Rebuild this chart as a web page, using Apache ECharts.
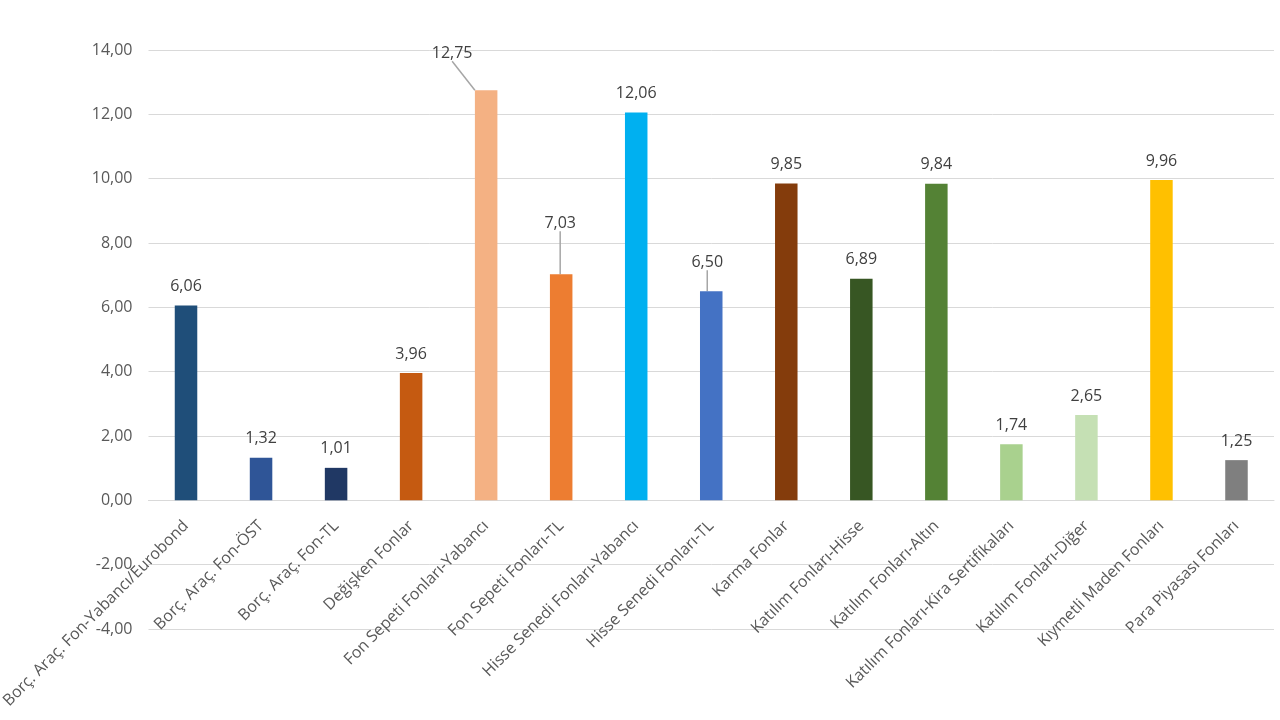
<!DOCTYPE html>
<html>
<head>
<meta charset="utf-8">
<script src="https://cdn.jsdelivr.net/npm/echarts@6/dist/echarts.min.js"></script>
<style>
html,body{margin:0;padding:0;background:#fff;}
#c{width:1280px;height:720px;}
</style>
</head>
<body>
<div id="c"></div>
<script>
const categories = [
  "Borç. Araç. Fon-Yabancı/Eurobond",
  "Borç. Araç. Fon-ÖST",
  "Borç. Araç. Fon-TL",
  "Değişken Fonlar",
  "Fon Sepeti Fonları-Yabancı",
  "Fon Sepeti Fonları-TL",
  "Hisse Senedi Fonları-Yabancı",
  "Hisse Senedi Fonları-TL",
  "Karma Fonlar",
  "Katılım Fonları-Hisse",
  "Katılım Fonları-Altın",
  "Katılım Fonları-Kira Sertifikaları",
  "Katılım Fonları-Diğer",
  "Kıymetli Maden Fonları",
  "Para Piyasası Fonları"
];
const values = [6.06, 1.32, 1.01, 3.96, 12.75, 7.03, 12.06, 6.50, 9.85, 6.89, 9.84, 1.74, 2.65, 9.96, 1.25];
const barColors = ["#1F4E79","#2F5597","#203864","#C55A11","#F4B183","#ED7D31","#00B0F0","#4472C4","#843C0C","#375623","#548235","#A9D18E","#C5E0B4","#FFC000","#7F7F7F"];
const yTicks = [-4, -2, 0, 2, 4, 6, 8, 10, 12, 14];

const fmt = v => v.toFixed(2).replace('.', ',');
const FONT = "'Open Sans', 'Noto Sans', sans-serif";

// labels that were dragged away from their bars (with leader lines)
const labelMoves = {4: {dx: -34, dy: -18}, 5: {dx: -1, dy: -32}, 7: {dx: -4, dy: -10}};

const GRID_TOP = 50, GRID_BOTTOM_Y = 629;
const plotH = GRID_BOTTOM_Y - GRID_TOP;
const yMin = yTicks[0], yMax = yTicks[yTicks.length - 1];
const zeroOffset = -plotH * (0 - yMin) / (yMax - yMin);

const chart = echarts.init(document.getElementById('c'));
chart.setOption({
  animation: false,
  grid: {left: 148.5, right: 6, top: GRID_TOP, bottom: 720 - GRID_BOTTOM_Y, containLabel: false, outerBoundsMode: 'none'},
  xAxis: {
    type: 'category',
    data: categories,
    position: 'bottom',
    offset: zeroOffset,
    axisLine: {show: true, onZero: false, lineStyle: {color: '#D9D9D9', width: 1}},
    axisTick: {show: false},
    axisLabel: {interval: 0, rotate: 45, color: '#595959', fontSize: 16, fontFamily: FONT, margin: 23, padding: [28, 0, 0, 0]}
  },
  yAxis: {
    type: 'value',
    min: yMin, max: yMax, interval: 2,
    axisLine: {show: false},
    axisTick: {show: false},
    splitLine: {lineStyle: {color: '#D9D9D9', width: 1}},
    axisLabel: {color: '#595959', fontSize: 16, fontFamily: FONT, margin: 16, formatter: v => fmt(v)}
  },
  series: [{
    type: 'bar',
    barWidth: '30%',
    data: values.map((v, i) => ({
      value: v,
      itemStyle: {color: barColors[i]},
      labelLine: {show: !!labelMoves[i]}
    })),
    label: {
      show: true, position: 'top', distance: 11,
      color: '#404040', fontSize: 16, fontFamily: FONT,
      formatter: p => fmt(p.value)
    },
    labelLine: {show: false, lineStyle: {color: '#A6A6A6', width: 1.5}},
    labelLayout: p => labelMoves[p.dataIndex] || {}
  }]
});
</script>
</body>
</html>
